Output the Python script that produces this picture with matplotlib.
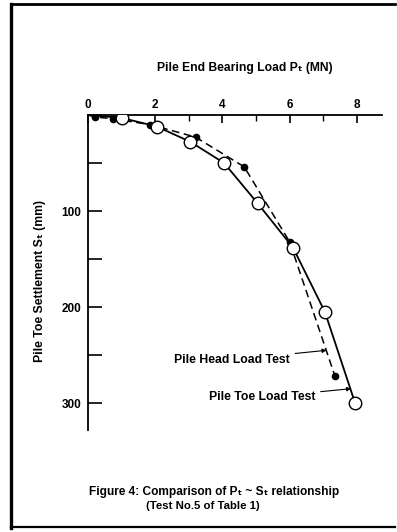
import matplotlib.pyplot as plt
from matplotlib.lines import Line2D
from matplotlib.ticker import MultipleLocator

plt.rcParams['font.family'] = ['Liberation Sans', 'DejaVu Sans']

# --- data ---
toe_P = [0.0, 1.0, 2.05, 3.05, 4.05, 5.05, 6.1, 7.05, 7.95]
toe_S = [0, 3, 12, 28, 50, 92, 138, 205, 300]
head_P = [0.0, 0.2, 0.75, 1.85, 3.2, 4.65, 6.0, 7.35]
head_S = [0, 2, 4, 10, 23, 54, 132, 272]

x_ticks = [0, 2, 4, 6, 8]
y_ticks = [100, 200, 300]

fig = plt.figure(figsize=(3.97, 5.32), dpi=100)
ax = fig.add_axes([88 / 397, 1 - 430 / 532, (382 - 88) / 397, (430 - 115) / 532])

ax.plot(toe_P, toe_S, '-', color='black', lw=1.3, marker='o', ms=9,
        mfc='white', mec='black', mew=1.0, markevery=slice(1, None), zorder=3)
ax.plot(head_P, head_S, '--', color='black', lw=1.1, dashes=(5, 3),
        marker='o', ms=4.5, mfc='black', mec='black',
        markevery=slice(1, None), zorder=2)

ax.set_xlim(0, 8.75)
ax.set_ylim(328, 0)
ax.xaxis.tick_top()
ax.set_xticks(x_ticks)
ax.xaxis.set_minor_locator(MultipleLocator(1))
ax.set_yticks(y_ticks)
ax.yaxis.set_minor_locator(MultipleLocator(50))
ax.tick_params(axis='x', which='major', direction='in', length=6, width=1.2,
               pad=3, labelsize=8.5)
ax.tick_params(axis='x', which='minor', direction='in', length=4, width=1.0)
ax.tick_params(axis='y', which='both', direction='in', length=10, width=1.2,
               pad=5, labelsize=8.5)
for lab in ax.get_xticklabels() + ax.get_yticklabels():
    lab.set_fontweight('bold')

for s in ['right', 'bottom']:
    ax.spines[s].set_visible(False)
ax.spines['top'].set_linewidth(1.3)
ax.spines['left'].set_linewidth(1.3)

# annotations
ax.annotate('Pile Head Load Test', xy=(7.1, 245), xytext=(6.0, 255),
            ha='right', va='center', fontsize=8.8, fontweight='bold',
            arrowprops=dict(arrowstyle='-|>', color='black', lw=0.8,
                            mutation_scale=6, shrinkA=2, shrinkB=0))
ax.annotate('Pile Toe Load Test', xy=(7.83, 285), xytext=(6.76, 294),
            ha='right', va='center', fontsize=8.8, fontweight='bold',
            arrowprops=dict(arrowstyle='-|>', color='black', lw=0.8,
                            mutation_scale=6, shrinkA=2, shrinkB=0))

# axis titles
fig.text(245 / 397, 1 - 68 / 532, 'Pile End Bearing Load P\u209c (MN)',
         ha='center', va='center', fontsize=8.7, fontweight='bold')
fig.text(40 / 397, 1 - 281 / 532, 'Pile Toe Settlement S\u209c (mm)',
         ha='center', va='center', rotation=90, fontsize=8.8, fontweight='bold')

# caption
fig.text(214 / 397, 1 - 492 / 532,
         'Figure 4: Comparison of P\u209c ~ S\u209c relationship',
         ha='center', va='center', fontsize=8.6, fontweight='bold')
fig.text(203 / 397, 1 - 506 / 532, '(Test No.5 of Table 1)',
         ha='center', va='center', fontsize=8.2, fontweight='bold')

# frame (left, top, bottom)
fig.add_artist(Line2D([11 / 397, 11 / 397], [1 - 4 / 532, 1 - 528 / 532],
                      color='black', lw=2.4))
fig.add_artist(Line2D([11 / 397, 395 / 397], [1 - 4 / 532, 1 - 4 / 532],
                      color='black', lw=2.0))
fig.add_artist(Line2D([11 / 397, 395 / 397], [1 - 527 / 532, 1 - 527 / 532],
                      color='black', lw=1.6))

fig.savefig('out.png', dpi=100, facecolor='white')
